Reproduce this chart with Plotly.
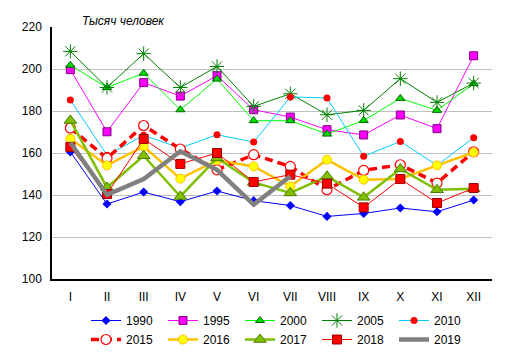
import plotly.graph_objects as go

months = ["I", "II", "III", "IV", "V", "VI", "VII", "VIII", "IX", "X", "XI", "XII"]

y1990 = [160.5, 135.7, 141.4, 136.8, 141.9, 137.3, 135.0, 129.8, 131.2, 133.8, 132.0, 137.6]
y1995 = [199.7, 170.1, 193.5, 187.1, 196.8, 180.6, 177.1, 171.1, 168.6, 178.1, 171.6, 206.3]
y2000 = [201.8, 191.2, 198.0, 180.6, 195.2, 175.4, 175.4, 169.0, 175.5, 186.0, 180.3, 193.0]
y2005 = [208.4, 191.2, 207.3, 191.2, 201.2, 182.2, 188.2, 178.2, 180.3, 195.4, 184.1, 193.3]
y2010 = [185.2, 158.9, 168.4, 162.4, 168.7, 165.2, 186.7, 186.2, 158.4, 165.5, 154.1, 167.3]
y2015 = [171.9, 157.5, 173.1, 161.9, 152.0, 159.2, 153.6, 142.5, 151.7, 154.4, 145.7, 160.6]
y2016 = [166.8, 154.1, 163.1, 147.8, 156.5, 153.6, 144.1, 156.8, 147.3, 147.6, 154.1, 160.3]
y2017 = [175.5, 143.6, 158.7, 139.3, 157.6, 146.0, 141.0, 148.9, 138.9, 152.4, 142.5, 143.0]
y2018 = [162.9, 140.5, 166.7, 154.8, 160.0, 146.2, 149.7, 145.4, 134.1, 147.6, 136.2, 143.3]
y2019 = [165.0, 140.1, 147.6, 160.8, 152.0, 135.4, 148.9, None, None, None, None, None]

y_ticks = [100, 120, 140, 160, 180, 200, 220]

fig = go.Figure()

def add(name, ys, line, marker=None, mode="lines+markers"):
    fig.add_trace(go.Scatter(x=months, y=ys, name=name, mode=mode, line=line,
                             marker=marker, connectgaps=False))

add("1990", y1990, dict(color="#0000ff", width=1),
    dict(symbol="diamond", size=7, color="#0000ff", line=dict(width=0)))
add("1995", y1995, dict(color="#ff00ff", width=1),
    dict(symbol="square", size=8, color="#ff00ff", line=dict(color="#800080", width=1)))
add("2000", y2000, dict(color="#00ff00", width=1),
    dict(symbol="triangle-up", size=8, color="#00dd00", line=dict(color="#006600", width=1)))
add("2005", y2005, dict(color="#008000", width=1),
    dict(symbol="asterisk-open", size=12, color="#008000", line=dict(color="#008000", width=1)))
add("2010", y2010, dict(color="#00ccff", width=1),
    dict(symbol="circle", size=7, color="#ff0000", line=dict(width=0)))
add("2015", y2015, dict(color="#ff0000", width=3.5, dash="8px,5px"),
    dict(symbol="circle", size=10, color="#ffffff", line=dict(color="#ff0000", width=1.2)))
add("2016", y2016, dict(color="#ffc000", width=2.5),
    dict(symbol="circle", size=9, color="#ffff00", line=dict(color="#ffc000", width=1)))
add("2017", y2017, dict(color="#80c000", width=2.5),
    dict(symbol="triangle-up", size=11, color="#80c000", line=dict(color="#4f7a00", width=1)))
add("2018", y2018, dict(color="#ff0000", width=1),
    dict(symbol="square", size=9, color="#ff0000", line=dict(color="#990000", width=1)))
add("2019", y2019, dict(color="#808080", width=4.5), None, mode="lines")

W, H = 504, 347
fig.update_layout(
    width=W, height=H,
    margin=dict(l=44, r=20, t=19, b=76, autoexpand=False),
    paper_bgcolor="white", plot_bgcolor="white",
    font=dict(family="Liberation Sans, Arial, sans-serif", size=12, color="#000000"),
    showlegend=True,
    legend=dict(orientation="h", xref="container", yref="container",
                x=78 / W, y=1 - 298 / H, xanchor="left", yanchor="top",
                entrywidth=32, entrywidthmode="pixels", itemwidth=30,
                font=dict(size=12), traceorder="normal",
                bgcolor="rgba(0,0,0,0)", tracegroupgap=0),
    xaxis=dict(type="category", range=[-0.5, 11.5], showgrid=False,
               showline=True, linecolor="#000000", linewidth=1.5,
               ticks="", ticklabelstandoff=6, tickfont=dict(size=12),
               zeroline=False, fixedrange=True, automargin=False),
    yaxis=dict(range=[100, 220], tickvals=y_ticks, showgrid=True,
               gridcolor="#c0c0c0", gridwidth=1,
               showline=True, linecolor="#000000", linewidth=1.5,
               ticks="", ticklabelstandoff=6, tickfont=dict(size=12),
               zeroline=False, fixedrange=True, automargin=False),
    annotations=[dict(text="<i>Тысяч человек</i>", xref="paper", yref="paper",
                      x=(80 - 52) / 440, y=1.0, xanchor="left", yanchor="bottom",
                      yshift=-3, showarrow=False, font=dict(size=12))],
)

fig.write_html("out.html")
